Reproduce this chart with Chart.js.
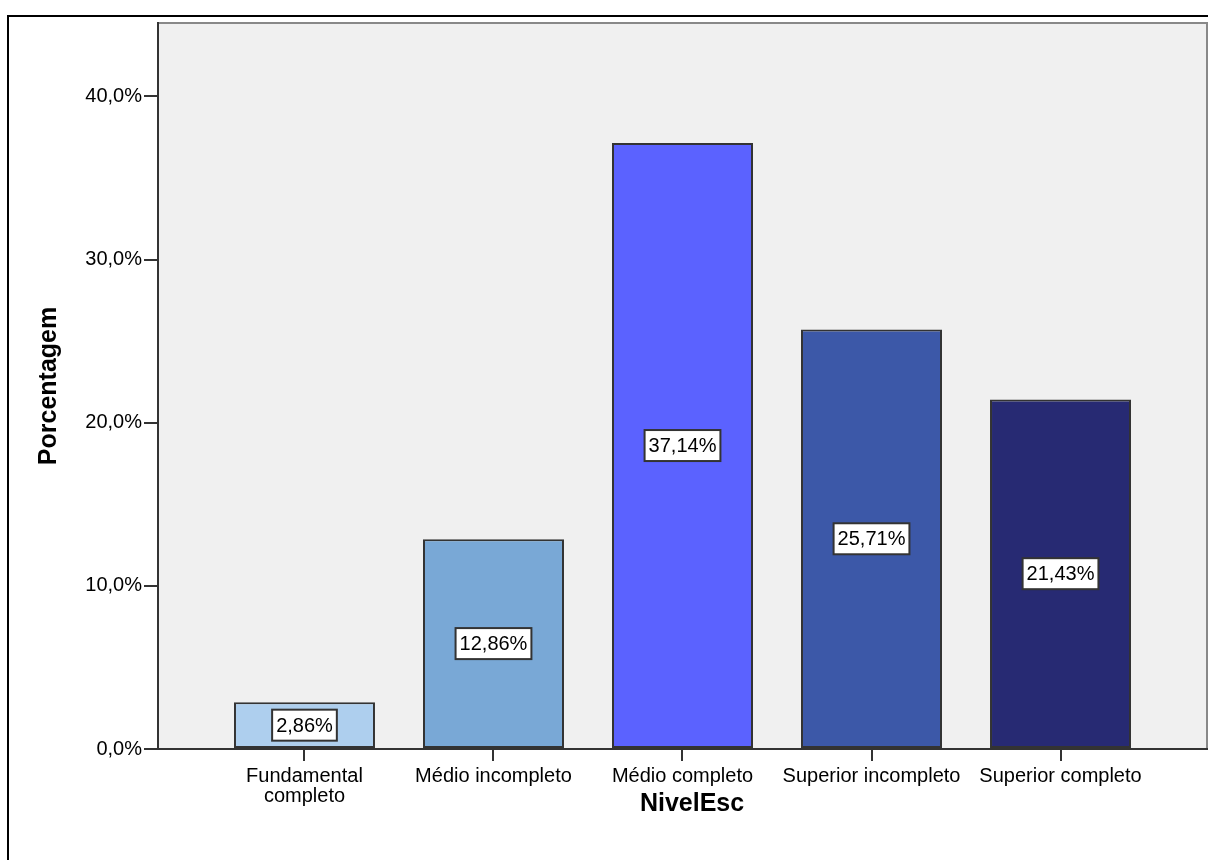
<!DOCTYPE html>
<html>
<head>
<meta charset="utf-8">
<script src="https://cdn.jsdelivr.net/npm/chart.js@4/dist/chart.umd.min.js"></script>
<style>
  html, body { margin: 0; padding: 0; background: #fff; }
  #wrap { width: 1208px; height: 860px; }
</style>
</head>
<body>
<div id="wrap"><canvas id="grafico" width="1208" height="860"></canvas></div>
<script>
// dados
const categorias = ['Fundamental completo', 'Médio incompleto', 'Médio completo', 'Superior incompleto', 'Superior completo'];
const rotulosX = [['Fundamental', 'completo'], 'Médio incompleto', 'Médio completo', 'Superior incompleto', 'Superior completo'];
const porcentagens = [2.86, 12.86, 37.14, 25.71, 21.43];
const coresBarras = ['#aecfee', '#79a8d6', '#5b62ff', '#3c58a8', '#272a73'];
const ticksY = [0, 10, 20, 30, 40];
const tituloY = 'Porcentagem';
const tituloX = 'NivelEsc';

const fonte = 'Arial, "Liberation Sans", sans-serif';

function formatarPct(v, casas) {
    return v.toFixed(casas).replace('.', ',') + '%';
}

// fundo, moldura e títulos
const moldura = {
    id: 'moldura',
    beforeDraw(chart) {
        const ctx = chart.ctx;
        const a = chart.chartArea;
        ctx.save();
        ctx.fillStyle = '#fff';
        ctx.fillRect(0, 0, chart.width, chart.height);
        // borda externa
        ctx.strokeStyle = '#000';
        ctx.lineWidth = 2;
        ctx.beginPath();
        ctx.moveTo(8, chart.height + 2);
        ctx.lineTo(8, 16);
        ctx.lineTo(chart.width + 2, 16);
        ctx.stroke();
        // área do gráfico
        ctx.fillStyle = '#f0f0f0';
        ctx.fillRect(a.left, a.top, a.right - a.left, a.bottom - a.top);
        ctx.strokeStyle = '#888';
        ctx.lineWidth = 2;
        ctx.beginPath();
        ctx.moveTo(a.left, a.top);
        ctx.lineTo(a.right, a.top);
        ctx.lineTo(a.right, a.bottom);
        ctx.stroke();
        ctx.restore();
    },
    afterDraw(chart) {
        const ctx = chart.ctx;
        ctx.save();
        ctx.fillStyle = '#000';
        ctx.font = 'bold 25px ' + fonte;
        ctx.textAlign = 'center';
        ctx.textBaseline = 'middle';
        ctx.fillText(tituloX, 692, 804);
        ctx.translate(49, 386);
        ctx.rotate(-Math.PI / 2);
        ctx.fillText(tituloY, 0, 0);
        ctx.restore();
    }
};

// caixas brancas com os valores
const rotulosBarras = {
    id: 'rotulosBarras',
    afterDatasetsDraw(chart) {
        const ctx = chart.ctx;
        const meta = chart.getDatasetMeta(0);
        ctx.save();
        ctx.font = '20px ' + fonte;
        ctx.textAlign = 'center';
        ctx.textBaseline = 'middle';
        meta.data.forEach((bar, i) => {
            const texto = formatarPct(porcentagens[i], 2);
            const cy = (bar.y + bar.base) / 2;
            const w = ctx.measureText(texto).width + 8;
            const h = 31;
            ctx.fillStyle = '#fff';
            ctx.fillRect(bar.x - w / 2, cy - h / 2, w, h);
            ctx.strokeStyle = '#333';
            ctx.lineWidth = 2;
            ctx.strokeRect(bar.x - w / 2, cy - h / 2, w, h);
            ctx.fillStyle = '#000';
            ctx.fillText(texto, bar.x, cy + 1);
        });
        ctx.restore();
    }
};

new Chart(document.getElementById('grafico'), {
    type: 'bar',
    data: {
        datasets: [{
            label: 'Porcentagem',
            data: porcentagens.map((v, i) => ({ x: i, y: v })),
            backgroundColor: coresBarras,
            borderColor: '#333',
            borderWidth: 2,
            borderSkipped: false,
            categoryPercentage: 1,
            barPercentage: 0.746
        }]
    },
    options: {
        responsive: false,
        animation: false,
        layout: { padding: { top: 23, right: 1, left: 0, bottom: 0 } },
        plugins: {
            legend: { display: false },
            tooltip: { enabled: false }
        },
        scales: {
            x: {
                type: 'linear',
                min: -0.775,
                max: 4.775,
                offset: false,
                afterBuildTicks: (scale) => {
                    scale.ticks = categorias.map((c, i) => ({ value: i }));
                },
                afterFit: (scale) => { scale.height = 111; },
                ticks: {
                    color: '#000',
                    font: { family: fonte, size: 20, lineHeight: 1.0 },
                    padding: 5,
                    maxRotation: 0,
                    autoSkip: false,
                    callback: (v) => rotulosX[v]
                },
                grid: {
                    offset: false,
                    drawOnChartArea: false,
                    drawTicks: true,
                    tickLength: 12,
                    color: '#333',
                    lineWidth: 2
                },
                border: { display: true, color: '#333', width: 2 }
            },
            y: {
                min: 0,
                max: 44.5,
                afterBuildTicks: (scale) => {
                    scale.ticks = ticksY.map(v => ({ value: v }));
                },
                afterFit: (scale) => { scale.width = 158; },
                ticks: {
                    color: '#000',
                    font: { family: fonte, size: 20 },
                    padding: 2,
                    callback: (v) => formatarPct(v, 1)
                },
                grid: {
                    drawOnChartArea: false,
                    drawTicks: true,
                    tickLength: 14,
                    color: '#333',
                    lineWidth: 2
                },
                border: { display: true, color: '#333', width: 2 }
            }
        }
    },
    plugins: [moldura, rotulosBarras]
});
</script>
</body>
</html>
